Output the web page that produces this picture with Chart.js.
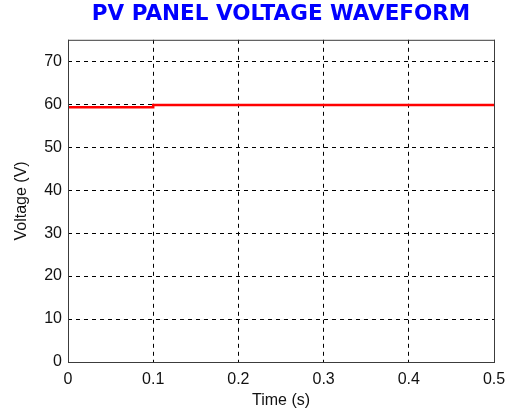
<!DOCTYPE html>
<html>
<head>
<meta charset="utf-8">
<script src="https://cdn.jsdelivr.net/npm/chart.js@4/dist/chart.umd.min.js"></script>
<style>
  html, body { margin: 0; padding: 0; background: #fff; }
  #wrap { width: 516px; height: 416px; }
</style>
</head>
<body>
<div id="wrap"><canvas id="pvChart"></canvas></div>
<script>
// waveform samples (step at 0.1 s)
var timeS = [0, 0.1, 0.1, 0.5];
var voltage = [59.3, 59.3, 59.85, 59.85];

var xTicks = [0, 0.1, 0.2, 0.3, 0.4, 0.5];
var yTicks = [0, 10, 20, 30, 40, 50, 60, 70];

var points = timeS.map(function (t, i) { return { x: t, y: voltage[i] }; });

// draws the closed axes box like the matlab figure
var frameBox = {
  id: 'frameBox',
  afterDraw: function (chart) {
    var a = chart.chartArea, ctx = chart.ctx;
    ctx.save();
    ctx.strokeStyle = '#3c3c3c';
    ctx.lineWidth = 1;
    ctx.strokeRect(a.left + 0.5, a.top + 0.5, a.right - a.left, a.bottom - a.top);
    ctx.restore();
  }
};

var gridStyle = {
  color: '#000',
  lineWidth: 1,
  drawTicks: false
};

var ctx = document.getElementById('pvChart').getContext('2d');
var pvChart = new Chart(ctx, {
  type: 'scatter',
  data: {
    datasets: [{
      label: 'PV voltage',
      data: points,
      showLine: true,
      borderColor: 'rgb(255, 0, 0)',
      borderWidth: 2.5,
      pointRadius: 0,
      tension: 0
    }]
  },
  options: {
    responsive: true,
    maintainAspectRatio: false,
    animation: false,
    layout: { padding: { left: 12, right: 22, top: 0, bottom: 6 } },
    scales: {
      x: {
        type: 'linear',
        min: 0,
        max: 0.5,
        afterBuildTicks: function (s) { s.ticks = xTicks.map(function (v) { return { value: v }; }); },
        afterFit: function (s) { s.height = 48; },
        grid: gridStyle,
        border: { display: false, dash: [4, 4] },
        ticks: {
          color: '#111',
          font: { family: 'Liberation Sans', size: 16 },
          padding: 8,
          maxRotation: 0,
          callback: function (v) { return String(v); }
        },
        title: {
          display: true,
          text: 'Time (s)',
          color: '#111',
          font: { family: 'Liberation Sans', size: 16 },
          padding: { top: 2, bottom: 0 }
        }
      },
      y: {
        min: 0,
        max: 75,
        afterBuildTicks: function (s) { s.ticks = yTicks.map(function (v) { return { value: v }; }); },
        afterFit: function (s) { s.width = 56; },
        grid: gridStyle,
        border: { display: false, dash: [4, 4] },
        ticks: {
          color: '#111',
          font: { family: 'Liberation Sans', size: 16 },
          padding: 6
        },
        title: {
          display: true,
          text: 'Voltage (V)',
          color: '#111',
          font: { family: 'Liberation Sans', size: 16 },
          padding: { top: 0, bottom: 4 }
        }
      }
    },
    plugins: {
      legend: { display: false },
      tooltip: { enabled: false },
      title: {
        display: true,
        fullSize: false,
        text: 'PV PANEL VOLTAGE WAVEFORM',
        color: 'rgb(0, 0, 255)',
        font: { family: 'DejaVu Sans', size: 21.5, weight: 'bold', lineHeight: 1.2 },
        padding: { top: 2, bottom: 12 }
      }
    }
  },
  plugins: [frameBox]
});
</script>
</body>
</html>
